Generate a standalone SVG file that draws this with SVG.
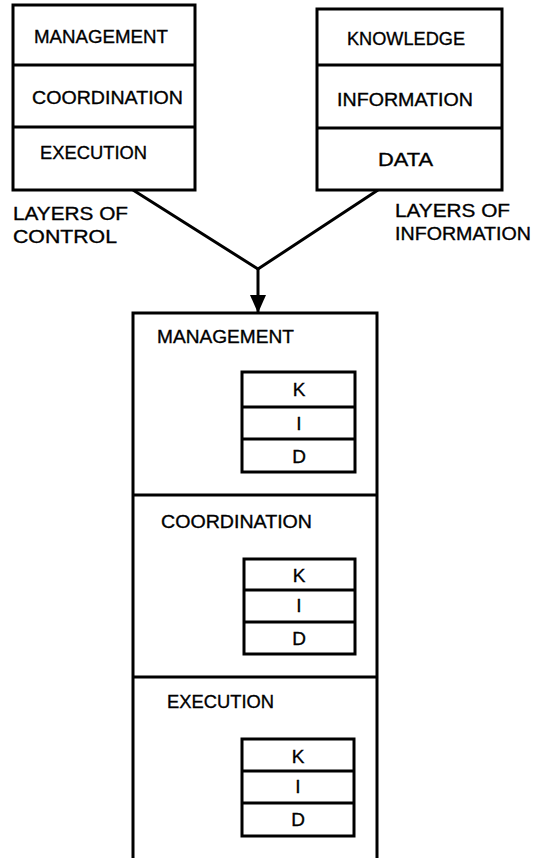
<svg xmlns="http://www.w3.org/2000/svg" width="545" height="858" viewBox="0 0 545 858">
<defs>
<style>
.box{fill:#fff;stroke:#000;stroke-width:3}
.ln{stroke:#000;stroke-width:3;fill:none}
.t{font-family:"Liberation Sans",Arial,sans-serif;font-size:19px;fill:#000;stroke:#000;stroke-width:0.35}
.k{font-family:"Liberation Sans",Arial,sans-serif;font-size:19px;fill:#000;stroke:#000;stroke-width:0.35;text-anchor:middle}
</style>
<marker id="ah" viewBox="0 0 18 16" refX="18" refY="8" markerWidth="18" markerHeight="16" markerUnits="userSpaceOnUse" orient="auto">
<path d="M0,0 L18,8 L0,16 Z" fill="#000"/>
</marker>
</defs>
<rect width="545" height="858" fill="#fff"/>
<g id="connectors">
<polyline class="ln" stroke-width="4.5" points="133,190 258,269 378,190"/>
<line class="ln" x1="258" y1="269" x2="258" y2="313" marker-end="url(#ah)"/>
</g>
<g id="control-layers">
<rect class="box" x="13" y="5" width="182" height="185"/>
<line class="ln" x1="13" y1="65" x2="195" y2="65"/>
<line class="ln" x1="13" y1="127" x2="195" y2="127"/>
<text class="t" x="34" y="43" textLength="134" lengthAdjust="spacingAndGlyphs">MANAGEMENT</text>
<text class="t" x="32" y="104" textLength="151" lengthAdjust="spacingAndGlyphs">COORDINATION</text>
<text class="t" x="40" y="159" textLength="107" lengthAdjust="spacingAndGlyphs">EXECUTION</text>
<text class="t" x="13" y="220" textLength="115" lengthAdjust="spacingAndGlyphs">LAYERS OF</text>
<text class="t" x="13" y="243" textLength="104" lengthAdjust="spacingAndGlyphs">CONTROL</text>
</g>
<g id="information-layers">
<rect class="box" x="317" y="9" width="185" height="181"/>
<line class="ln" x1="317" y1="65" x2="502" y2="65"/>
<line class="ln" x1="317" y1="128" x2="502" y2="128"/>
<text class="t" x="347" y="45" textLength="118" lengthAdjust="spacingAndGlyphs">KNOWLEDGE</text>
<text class="t" x="337" y="106" textLength="136" lengthAdjust="spacingAndGlyphs">INFORMATION</text>
<text class="t" x="378" y="166" textLength="55" lengthAdjust="spacingAndGlyphs">DATA</text>
<text class="t" x="395" y="217" textLength="115" lengthAdjust="spacingAndGlyphs">LAYERS OF</text>
<text class="t" x="395" y="240" textLength="136" lengthAdjust="spacingAndGlyphs">INFORMATION</text>
</g>
<g id="combined">
<polyline class="ln" points="133,858 133,313 377,313 377,858"/>
<line class="ln" x1="133" y1="495" x2="377" y2="495"/>
<line class="ln" x1="133" y1="677" x2="377" y2="677"/>
</g>
<g id="management">
<text class="t" x="157" y="343" textLength="137" lengthAdjust="spacingAndGlyphs">MANAGEMENT</text>
<rect class="box" x="242" y="372" width="113" height="100"/>
<line class="ln" x1="242" y1="407" x2="355" y2="407"/>
<line class="ln" x1="242" y1="439" x2="355" y2="439"/>
<text class="k" x="299" y="396">K</text>
<text class="k" x="299" y="430">I</text>
<text class="k" x="299" y="463">D</text>
</g>
<g id="coordination">
<text class="t" x="161" y="528" textLength="151" lengthAdjust="spacingAndGlyphs">COORDINATION</text>
<rect class="box" x="244" y="559" width="111" height="95"/>
<line class="ln" x1="244" y1="590" x2="355" y2="590"/>
<line class="ln" x1="244" y1="622" x2="355" y2="622"/>
<text class="k" x="299" y="582">K</text>
<text class="k" x="299" y="612">I</text>
<text class="k" x="299" y="645">D</text>
</g>
<g id="execution">
<text class="t" x="167" y="708" textLength="107" lengthAdjust="spacingAndGlyphs">EXECUTION</text>
<rect class="box" x="242" y="739" width="112" height="97"/>
<line class="ln" x1="242" y1="771" x2="354" y2="771"/>
<line class="ln" x1="242" y1="803" x2="354" y2="803"/>
<text class="k" x="298" y="763">K</text>
<text class="k" x="298" y="793">I</text>
<text class="k" x="298" y="826">D</text>
</g>
</svg>
